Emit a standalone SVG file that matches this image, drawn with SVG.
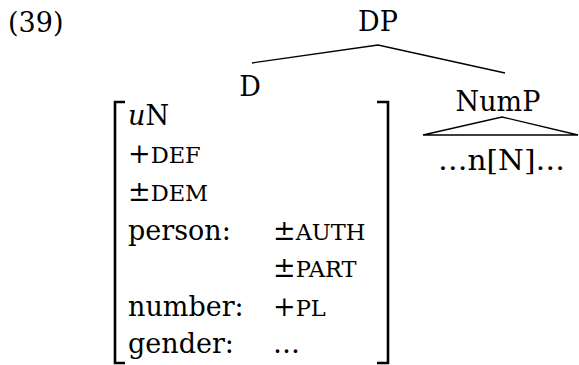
<svg xmlns="http://www.w3.org/2000/svg" width="579" height="365" viewBox="0 0 579 365">
<style>
text{font-family:"DejaVu Serif","Liberation Serif",serif;font-size:27px;fill:#000}
.sc{font-size:22.5px}
.ln{stroke:#000;stroke-width:1.3;fill:none}
.br{stroke:#000;stroke-width:2.6;fill:none}
</style>
<rect width="579" height="365" fill="#fff"/>
<text x="8" y="32">(39)</text>
<g id="DP"><text x="378" y="31" text-anchor="middle">DP</text></g>
<g id="connectors">
<path class="ln" d="M252,63 L378,45 L505,73"/>
</g>
<g id="D">
<text x="250" y="96" text-anchor="middle">D</text>
<path class="br" d="M125,102 H115 V363 H125"/>
<path class="br" d="M377,102 H388 V363 H377"/>
<text x="128" y="125"><tspan font-style="italic">u</tspan>N</text>
<text x="128" y="163">+<tspan class="sc">DEF</tspan></text>
<text x="128" y="201">±<tspan class="sc">DEM</tspan></text>
<text x="128" y="240">person:</text>
<text x="273" y="240">±<tspan class="sc">AUTH</tspan></text>
<text x="273" y="277">±<tspan class="sc">PART</tspan></text>
<text x="128" y="316">number:</text>
<text x="273" y="316">+<tspan class="sc">PL</tspan></text>
<text x="128" y="353">gender:</text>
<text x="273" y="353">…</text>
</g>
<g id="NumP">
<text x="498" y="111" text-anchor="middle">NumP</text>
<path class="ln" d="M423,135 L502,117 L578,135 Z"/>
<text x="438" y="170" textLength="127" lengthAdjust="spacingAndGlyphs">…n[N]…</text>
</g>
</svg>
